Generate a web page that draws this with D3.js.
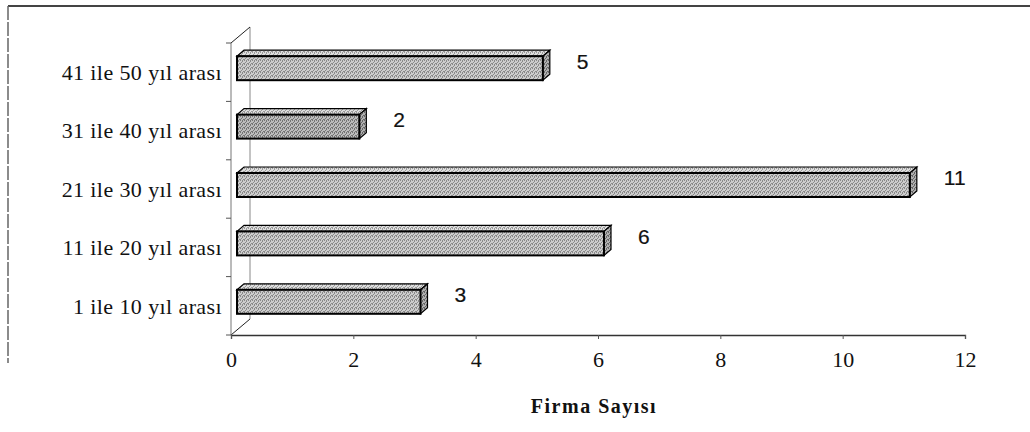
<!DOCTYPE html>
<html>
<head>
<meta charset="utf-8">
<script src="https://cdn.jsdelivr.net/npm/d3@7"></script>
<style>
  body { margin: 0; background: #fff; }
  svg { display: block; }
</style>
</head>
<body>
<div id="canvas"></div>
<script>
// data, top row first
var categories = ["41 ile 50 yıl arası", "31 ile 40 yıl arası", "21 ile 30 yıl arası", "11 ile 20 yıl arası", "1 ile 10 yıl arası"];
var firmaSayisi = [5, 2, 11, 6, 3];
var tickValues = [0, 2, 4, 6, 8, 10, 12];
var axisTitle = "Firma Sayısı";

var w = 1030, h = 432;
var svg = d3.select("#canvas").append("svg").attr("width", w).attr("height", h);

var x = d3.scaleLinear().domain([0, 12]).range([231, 965]);
var y = d3.scaleBand().domain(categories).range([43, 335]);

// wall depth and bar depth
var wdx = 19, wdy = -16;
var bdx = 7, bdy = -6, bshift = 6;

// speckled grey fills, like the scanned halftone
var defs = svg.append("defs");
var speck = [[0, 0], [2, 1], [1, 2], [3, 3], [0, 3], [2, 0]];
function dither(id, light, dark) {
  var p = defs.append("pattern").attr("id", id).attr("width", 4).attr("height", 4)
    .attr("patternUnits", "userSpaceOnUse");
  p.append("rect").attr("width", 4).attr("height", 4).attr("fill", light);
  speck.forEach(function(s) {
    p.append("rect").attr("x", s[0]).attr("y", s[1]).attr("width", 1).attr("height", 1).attr("fill", dark);
  });
}
dither("front", "#cdcdcd", "#8a8a8a");
dither("frontDark", "#bcbcbc", "#747474");
dither("top", "#dedede", "#9a9a9a");
dither("side", "#b0b0b0", "#666");

// outer frame (scan edge)
svg.append("line").attr("x1", 8).attr("x2", w).attr("y1", 6).attr("y2", 6)
  .attr("stroke", "#444").attr("stroke-width", 2);
svg.append("line").attr("x1", 8).attr("x2", 8).attr("y1", 6).attr("y2", 363)
  .attr("stroke", "#666").attr("stroke-width", 1.5).attr("stroke-dasharray", "14,2");

// back wall line and depth diagonals
var x0 = x(0), yTop = y.range()[0], yBot = y.range()[1];
svg.append("line").attr("x1", x0 + wdx).attr("x2", x0 + wdx)
  .attr("y1", yTop + wdy).attr("y2", yBot + wdy)
  .attr("stroke", "#888").attr("stroke-width", 1);
svg.append("line").attr("x1", x0).attr("y1", yTop).attr("x2", x0 + wdx).attr("y2", yTop + wdy)
  .attr("stroke", "#222").attr("stroke-width", 1);
svg.append("line").attr("x1", x0).attr("y1", yBot).attr("x2", x0 + wdx).attr("y2", yBot + wdy)
  .attr("stroke", "#222").attr("stroke-width", 1);

// left axis line with ticks at the category boundaries
svg.append("line").attr("x1", x0).attr("x2", x0).attr("y1", yTop).attr("y2", yBot)
  .attr("stroke", "#777").attr("stroke-width", 1);
var bounds = categories.map(function(c) { return y(c); }).concat([yBot]);
svg.selectAll(".ytick").data(bounds).enter().append("line")
  .attr("x1", x0 - 5).attr("x2", x0).attr("y1", function(d) { return d; }).attr("y2", function(d) { return d; })
  .attr("stroke", "#555");

// category labels
svg.selectAll(".cat").data(categories).enter().append("text")
  .attr("x", 222)
  .attr("y", function(d) { return y(d) + y.bandwidth() / 2; })
  .attr("dy", "0.35em")
  .attr("text-anchor", "end")
  .style("font-family", "'Liberation Serif', 'Times New Roman', serif")
  .style("font-size", "22px")
  .style("letter-spacing", "0.4px")
  .style("fill", "#111")
  .text(function(d) { return d; });

// bottom axis
var xAxis = d3.axisBottom(x).tickValues(tickValues).tickSize(4).tickPadding(12).tickFormat(d3.format("d"));
var gx = svg.append("g").attr("transform", "translate(0," + yBot + ")").call(xAxis);
gx.select(".domain").attr("stroke", "#333").attr("stroke-width", 1.3);
gx.selectAll(".tick line").attr("stroke", "#555");
gx.selectAll(".tick text")
  .style("font-family", "'Liberation Serif', 'Times New Roman', serif")
  .style("font-size", "22px")
  .style("fill", "#111");

// bars
var bars = svg.selectAll(".bar").data(categories).enter().append("g");
bars.each(function(d, i) {
  var g = d3.select(this);
  var c = y(d) + y.bandwidth() / 2;
  var l = x(0) + bshift, r = x(firmaSayisi[i]) + bshift;
  var t = c - 16, b = c + 8;
  var dark = d === "31 ile 40 yıl arası";
  g.append("polygon")
    .attr("points", [[l, t], [l + bdx, t + bdy], [r + bdx, t + bdy], [r, t]].join(" "))
    .attr("fill", "url(#top)").attr("stroke", "#000").attr("stroke-width", 1.2);
  g.append("polygon")
    .attr("points", [[r, t], [r + bdx, t + bdy], [r + bdx, b + bdy], [r, b]].join(" "))
    .attr("fill", "url(#side)").attr("stroke", "#000").attr("stroke-width", 1.2);
  g.append("rect")
    .attr("x", l).attr("y", t).attr("width", r - l).attr("height", b - t)
    .attr("fill", dark ? "url(#frontDark)" : "url(#front)")
    .attr("stroke", "#000").attr("stroke-width", 2);
  g.append("text")
    .attr("x", x(firmaSayisi[i]) + 40)
    .attr("y", c - 11)
    .attr("dy", "0.35em")
    .style("font-family", "'Liberation Sans', Arial, sans-serif")
    .style("font-size", "21px")
    .style("fill", "#111")
    .style("stroke", "#111")
    .style("stroke-width", 0.2)
    .text(firmaSayisi[i]);
});

// axis title
svg.append("text")
  .attr("x", 594).attr("y", 413)
  .attr("text-anchor", "middle")
  .style("font-family", "'Liberation Serif', 'Times New Roman', serif")
  .style("font-size", "20px")
  .style("font-weight", "bold")
  .style("letter-spacing", "1.5px")
  .style("fill", "#111")
  .text(axisTitle);
</script>
</body>
</html>
